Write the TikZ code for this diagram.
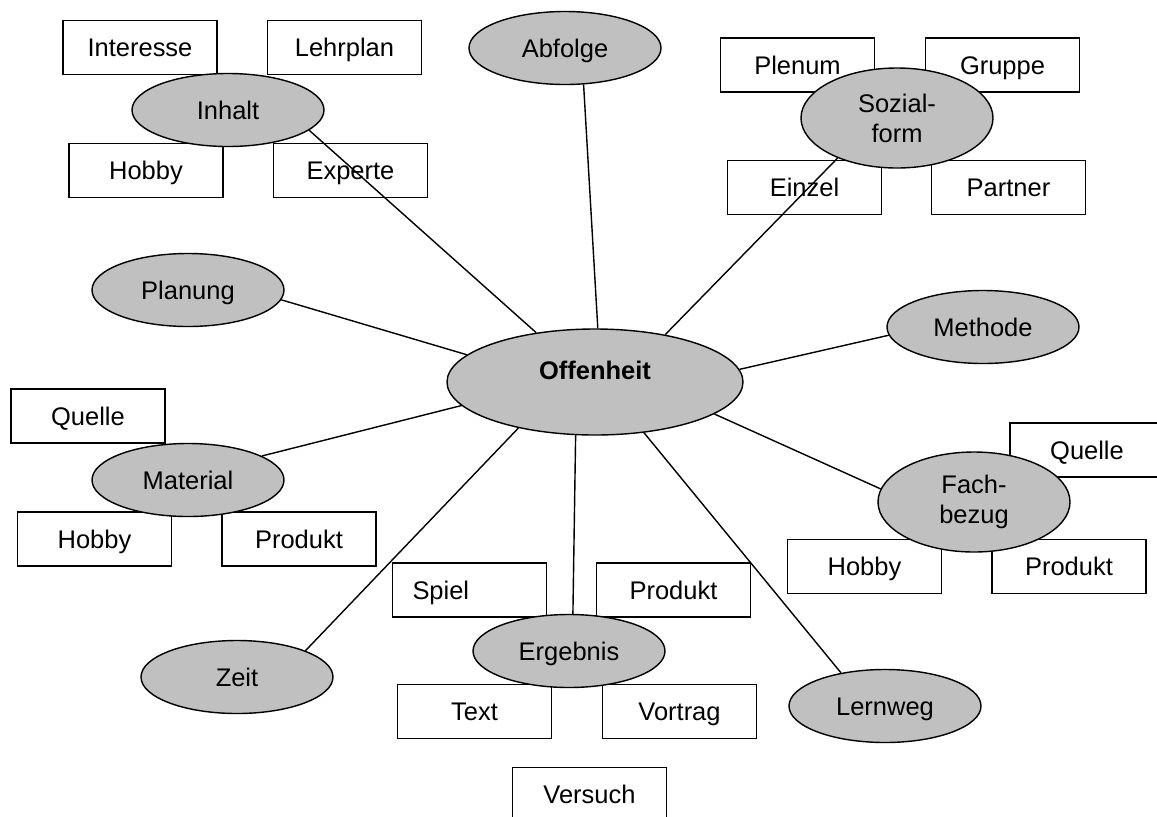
\documentclass[tikz,border=0pt]{standalone}
\usepackage{fontspec}
\setmainfont{Liberation Sans}
\usepackage{tikz}
\usetikzlibrary{shapes.geometric,backgrounds}
\definecolor{topicgray}{HTML}{C0C0C0}

\begin{document}
\begin{tikzpicture}
	[x=0.2mm, y=-0.2mm, inner sep=0pt, font=\fontsize{14.5}{17}\selectfont,
	oneline/.style	= {text height=12.4pt, text depth=2pt},
	ovalbase/.style	= {draw, ellipse, line width=0.8pt, fill=topicgray, minimum width=38.4mm, align=center},
	topic/.style	= {ovalbase, oneline, minimum height=14.6mm},
	twoline/.style	= {ovalbase, minimum height=20mm},
	core/.style		= {ovalbase, minimum width=59.2mm, minimum height=21.2mm, text height=10pt, text depth=13.2pt, font=\fontsize{14.5}{17}\selectfont\bfseries},
	item/.style		= {draw, rectangle, oneline, line width=0.8pt, minimum width=30.8mm, minimum height=10.8mm},
	spoke/.style	= {line width=0.8pt}]

	\useasboundingbox (0,0) rectangle (1157,816);

	% boxes
	\node [item]	at (140,47.5)		(interesse)	{Interesse};
	\node [item]	at (344.5,47.5)		(lehrplan)	{Lehrplan};
	\node [item]	at (146,170.5)		(hobbyI)	{Hobby};
	\node [item]	at (350.5,170.5)	(experte)	{Experte};

	\node [item]	at (797.5,65)		(plenum)	{Plenum};
	\node [item]	at (1002.5,65)		(gruppe)	{Gruppe};
	\node [item]	at (804.5,187.5)	(einzel)	{Einzel};
	\node [item]	at (1008.5,187.5)	(partner)	{Partner};

	\node [item]	at (88,416)			(quelleM)	{Quelle};
	\node [item]	at (94.5,539)		(hobbyM)	{Hobby};
	\node [item]	at (299,539)		(produktM)	{Produkt};

	\node [item]	at (1087,450)		(quelleF)	{Quelle};
	\node [item]	at (864.5,566.5)	(hobbyF)	{Hobby};
	\node [item]	at (1069,566.5)		(produktF)	{Produkt};

	\node [item, text width=22.8mm, align=left]	at (469.5,590)	(spiel)	{Spiel};
	\node [item]	at (673.5,590)		(produktE)	{Produkt};
	\node [item]	at (474.5,711.5)	(text)		{Text};
	\node [item]	at (679.5,711.5)	(vortrag)	{Vortrag};
	\node [item]	at (589.5,794.5)	(versuch)	{Versuch};

	% topics
	\node [topic]	at (228,110)		(inhalt)	{Inhalt};
	\node [topic]	at (565,48)			(abfolge)	{Abfolge};
	\node [twoline]	at (897,118)		(sozial)	{Sozial-\\form};
	\node [topic]	at (188,290)		(planung)	{Planung};
	\node [topic]	at (983,327)		(methode)	{Methode};
	\node [core]	at (595,382)		(offen)		{Offenheit};
	\node [topic]	at (188,480)		(material)	{Material};
	\node [twoline]	at (974,502)		(fach)		{Fach-\\bezug};
	\node [topic]	at (237,677)		(zeit)		{Zeit};
	\node [topic]	at (569,651)		(ergebnis)	{Ergebnis};
	\node [topic]	at (885,706)		(lernweg)	{Lernweg};

	\begin{scope}[on background layer]
		\draw [spoke] (offen.140) -- (inhalt.346);
		\draw [spoke] (offen.87)  -- (abfolge.297);
		\draw [spoke] (offen.34)  -- (sozial.214);
		\draw [spoke] (offen.168) -- (planung.354);
		\draw [spoke] (offen.5)   -- (methode.185);
		\draw [spoke] (offen.190) -- (material.18);
		\draw [spoke] (offen.345) -- (fach.172);
		\draw [spoke] (offen.211) -- (zeit.21);
		\draw [spoke] (offen.250) -- (ergebnis.84);
		\draw [spoke] (offen.314) -- (lernweg.143);
	\end{scope}
\end{tikzpicture}
\end{document}
